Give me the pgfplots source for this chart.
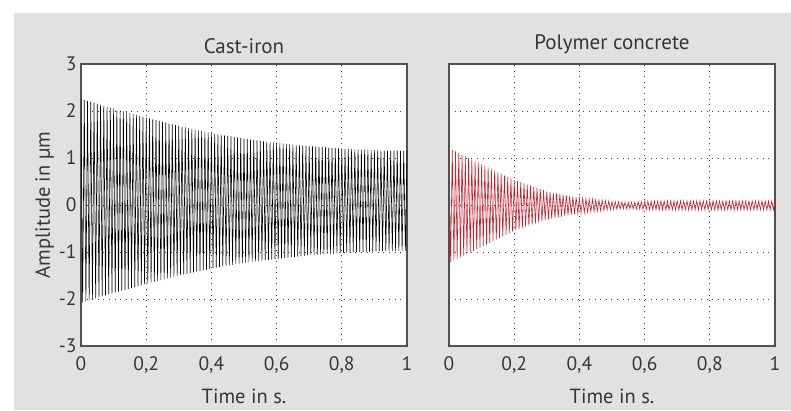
\documentclass[border=0pt]{standalone}
\usepackage{pgfplots}
\pgfplotsset{compat=1.18}
\usepackage{pgfplotstable}
\usepackage{fontspec}
\setmainfont{PT Sans}
\definecolor{bg}{RGB}{225,225,225}
\definecolor{framec}{RGB}{80,80,80}
\definecolor{txt}{RGB}{55,55,55}
\definecolor{pred}{RGB}{205,30,40}

\pgfplotstableread[row sep=\\]{
t y\\
0 2.26\\ 0.005 -2.07\\ 0.01 2.239\\ 0.015 -2.049\\ 0.02 2.218\\ 0.025 -2.028\\ 0.03 2.197\\ 0.035 -2.007\\ 0.04 2.176\\ 0.045 -1.986\\
0.05 2.155\\ 0.055 -1.965\\ 0.06 2.134\\ 0.065 -1.944\\ 0.07 2.113\\ 0.075 -1.923\\ 0.08 2.092\\ 0.085 -1.902\\ 0.09 2.071\\ 0.095 -1.881\\
0.10 2.05\\ 0.105 -1.861\\ 0.11 2.031\\ 0.115 -1.842\\ 0.12 2.012\\ 0.125 -1.823\\ 0.13 1.993\\ 0.135 -1.804\\ 0.14 1.974\\ 0.145 -1.785\\
0.15 1.955\\ 0.155 -1.766\\ 0.16 1.936\\ 0.165 -1.747\\ 0.17 1.917\\ 0.175 -1.728\\ 0.18 1.898\\ 0.185 -1.709\\ 0.19 1.879\\ 0.195 -1.690\\
0.20 1.86\\ 0.205 -1.671\\ 0.21 1.842\\ 0.215 -1.653\\ 0.22 1.824\\ 0.225 -1.635\\ 0.23 1.806\\ 0.235 -1.617\\ 0.24 1.788\\ 0.245 -1.599\\
0.25 1.77\\ 0.255 -1.581\\ 0.26 1.752\\ 0.265 -1.563\\ 0.27 1.734\\ 0.275 -1.545\\ 0.28 1.716\\ 0.285 -1.527\\ 0.29 1.698\\ 0.295 -1.509\\
0.30 1.68\\ 0.305 -1.493\\ 0.31 1.665\\ 0.315 -1.478\\ 0.32 1.65\\ 0.325 -1.463\\ 0.33 1.635\\ 0.335 -1.448\\ 0.34 1.62\\ 0.345 -1.433\\
0.35 1.605\\ 0.355 -1.418\\ 0.36 1.59\\ 0.365 -1.403\\ 0.37 1.575\\ 0.375 -1.388\\ 0.38 1.56\\ 0.385 -1.373\\ 0.39 1.545\\ 0.395 -1.358\\
0.40 1.53\\ 0.405 -1.344\\ 0.41 1.518\\ 0.415 -1.332\\ 0.42 1.506\\ 0.425 -1.32\\ 0.43 1.494\\ 0.435 -1.308\\ 0.44 1.482\\ 0.445 -1.296\\
0.45 1.47\\ 0.455 -1.284\\ 0.46 1.458\\ 0.465 -1.272\\ 0.47 1.446\\ 0.475 -1.26\\ 0.48 1.434\\ 0.485 -1.248\\ 0.49 1.422\\ 0.495 -1.236\\
0.50 1.41\\ 0.505 -1.226\\ 0.51 1.402\\ 0.515 -1.217\\ 0.52 1.393\\ 0.525 -1.209\\ 0.53 1.385\\ 0.535 -1.2\\ 0.54 1.376\\ 0.545 -1.192\\
0.55 1.368\\ 0.555 -1.183\\ 0.56 1.359\\ 0.565 -1.175\\ 0.57 1.351\\ 0.575 -1.166\\ 0.58 1.342\\ 0.585 -1.158\\ 0.59 1.334\\ 0.595 -1.149\\
0.60 1.325\\ 0.605 -1.141\\ 0.61 1.318\\ 0.615 -1.134\\ 0.62 1.31\\ 0.625 -1.126\\ 0.63 1.303\\ 0.635 -1.119\\ 0.64 1.295\\ 0.645 -1.111\\
0.65 1.288\\ 0.655 -1.104\\ 0.66 1.28\\ 0.665 -1.096\\ 0.67 1.273\\ 0.675 -1.089\\ 0.68 1.265\\ 0.685 -1.081\\ 0.69 1.258\\ 0.695 -1.074\\
0.70 1.25\\ 0.705 -1.068\\ 0.71 1.245\\ 0.715 -1.063\\ 0.72 1.24\\ 0.725 -1.058\\ 0.73 1.235\\ 0.735 -1.053\\ 0.74 1.23\\ 0.745 -1.048\\
0.75 1.225\\ 0.755 -1.043\\ 0.76 1.22\\ 0.765 -1.038\\ 0.77 1.215\\ 0.775 -1.033\\ 0.78 1.21\\ 0.785 -1.028\\ 0.79 1.205\\ 0.795 -1.023\\
0.80 1.2\\ 0.805 -1.018\\ 0.81 1.197\\ 0.815 -1.015\\ 0.82 1.193\\ 0.825 -1.011\\ 0.83 1.19\\ 0.835 -1.008\\ 0.84 1.186\\ 0.845 -1.004\\
0.85 1.183\\ 0.855 -1.001\\ 0.86 1.179\\ 0.865 -0.997\\ 0.87 1.176\\ 0.875 -0.994\\ 0.88 1.172\\ 0.885 -0.99\\ 0.89 1.169\\ 0.895 -0.987\\
0.90 1.165\\ 0.905 -0.984\\ 0.91 1.164\\ 0.915 -0.983\\ 0.92 1.162\\ 0.925 -0.981\\ 0.93 1.161\\ 0.935 -0.98\\ 0.94 1.159\\ 0.945 -0.978\\
0.95 1.158\\ 0.955 -0.977\\ 0.96 1.156\\ 0.965 -0.975\\ 0.97 1.155\\ 0.975 -0.974\\ 0.98 1.153\\ 0.985 -0.972\\ 0.99 1.152\\ 0.995 -0.971\\
1.00 1.15\\
}\castiron

\pgfplotstableread[row sep=\\]{
t y\\
0 1.21\\ 0.005 -1.213\\ 0.01 1.176\\ 0.015 -1.179\\ 0.02 1.142\\ 0.025 -1.145\\ 0.03 1.108\\ 0.035 -1.111\\ 0.04 1.074\\ 0.045 -1.077\\
0.05 1.04\\ 0.055 -1.043\\ 0.06 1.006\\ 0.065 -1.009\\ 0.07 0.972\\ 0.075 -0.975\\ 0.08 0.938\\ 0.085 -0.941\\ 0.09 0.904\\ 0.095 -0.907\\
0.10 0.87\\ 0.105 -0.873\\ 0.11 0.836\\ 0.115 -0.839\\ 0.12 0.802\\ 0.125 -0.805\\ 0.13 0.768\\ 0.135 -0.771\\ 0.14 0.734\\ 0.145 -0.737\\
0.15 0.70\\ 0.155 -0.703\\ 0.16 0.666\\ 0.165 -0.669\\ 0.17 0.632\\ 0.175 -0.635\\ 0.18 0.598\\ 0.185 -0.601\\ 0.19 0.564\\ 0.195 -0.567\\
0.20 0.53\\ 0.205 -0.538\\ 0.21 0.506\\ 0.215 -0.514\\ 0.22 0.482\\ 0.225 -0.49\\ 0.23 0.458\\ 0.235 -0.466\\ 0.24 0.434\\ 0.245 -0.442\\
0.25 0.41\\ 0.255 -0.418\\ 0.26 0.386\\ 0.265 -0.394\\ 0.27 0.362\\ 0.275 -0.37\\ 0.28 0.338\\ 0.285 -0.346\\ 0.29 0.314\\ 0.295 -0.322\\
0.30 0.29\\ 0.305 -0.303\\ 0.31 0.276\\ 0.315 -0.289\\ 0.32 0.262\\ 0.325 -0.275\\ 0.33 0.248\\ 0.335 -0.261\\ 0.34 0.234\\ 0.345 -0.247\\
0.35 0.22\\ 0.355 -0.233\\ 0.36 0.206\\ 0.365 -0.219\\ 0.37 0.192\\ 0.375 -0.205\\ 0.38 0.178\\ 0.385 -0.191\\ 0.39 0.164\\ 0.395 -0.177\\
0.40 0.15\\ 0.405 -0.166\\ 0.41 0.143\\ 0.415 -0.159\\ 0.42 0.135\\ 0.425 -0.151\\ 0.43 0.128\\ 0.435 -0.144\\ 0.44 0.12\\ 0.445 -0.136\\
0.45 0.113\\ 0.455 -0.129\\ 0.46 0.105\\ 0.465 -0.121\\ 0.47 0.098\\ 0.475 -0.114\\ 0.48 0.09\\ 0.485 -0.106\\ 0.49 0.083\\ 0.495 -0.099\\
0.50 0.075\\ 0.505 -0.093\\ 0.51 0.071\\ 0.515 -0.089\\ 0.52 0.067\\ 0.525 -0.085\\ 0.53 0.063\\ 0.535 -0.081\\ 0.54 0.059\\ 0.545 -0.077\\
0.55 0.055\\ 0.555 -0.077\\ 0.56 0.059\\ 0.565 -0.082\\ 0.57 0.064\\ 0.575 -0.086\\ 0.58 0.068\\ 0.585 -0.09\\ 0.59 0.072\\ 0.595 -0.095\\
0.60 0.077\\ 0.605 -0.099\\ 0.61 0.081\\ 0.615 -0.103\\ 0.62 0.085\\ 0.625 -0.102\\ 0.63 0.087\\ 0.635 -0.102\\ 0.64 0.087\\ 0.645 -0.102\\
0.65 0.087\\ 0.655 -0.102\\ 0.66 0.087\\ 0.665 -0.102\\ 0.67 0.087\\ 0.675 -0.102\\ 0.68 0.087\\ 0.685 -0.102\\ 0.69 0.087\\ 0.695 -0.102\\
0.70 0.087\\ 0.705 -0.102\\ 0.71 0.087\\ 0.715 -0.102\\ 0.72 0.087\\ 0.725 -0.102\\ 0.73 0.087\\ 0.735 -0.102\\ 0.74 0.087\\ 0.745 -0.102\\
0.75 0.087\\ 0.755 -0.102\\ 0.76 0.087\\ 0.765 -0.102\\ 0.77 0.087\\ 0.775 -0.102\\ 0.78 0.087\\ 0.785 -0.102\\ 0.79 0.087\\ 0.795 -0.102\\
0.80 0.087\\ 0.805 -0.102\\ 0.81 0.087\\ 0.815 -0.102\\ 0.82 0.087\\ 0.825 -0.102\\ 0.83 0.087\\ 0.835 -0.102\\ 0.84 0.087\\ 0.845 -0.102\\
0.85 0.087\\ 0.855 -0.102\\ 0.86 0.087\\ 0.865 -0.102\\ 0.87 0.087\\ 0.875 -0.102\\ 0.88 0.087\\ 0.885 -0.102\\ 0.89 0.087\\ 0.895 -0.102\\
0.90 0.087\\ 0.905 -0.102\\ 0.91 0.087\\ 0.915 -0.102\\ 0.92 0.087\\ 0.925 -0.102\\ 0.93 0.087\\ 0.935 -0.102\\ 0.94 0.087\\ 0.945 -0.102\\
0.95 0.087\\ 0.955 -0.102\\ 0.96 0.087\\ 0.965 -0.102\\ 0.97 0.087\\ 0.975 -0.102\\ 0.98 0.087\\ 0.985 -0.102\\ 0.99 0.087\\ 0.995 -0.102\\
1.00 0.087\\
}\polymer

\pgfplotsset{
  myax/.style={
    scale only axis, width=326pt, height=282pt,
    xmin=0, xmax=1, ymin=-3, ymax=3,
    xtick={0,0.2,0.4,0.6,0.8,1},
    xticklabels={0,{0,2},{0,4},{0,6},{0,8},1},
    ytick={-3,-2,-1,0,1,2,3},
    grid=major,
    major grid style={dash pattern=on 1pt off 4.6pt, line width=0.8pt, color=black!75},
    axis line style={framec, line width=1.6pt},
    tick style={draw=none},
    axis background/.style={fill=white},
    tick label style={font=\fontsize{19.5}{22}\selectfont, text=txt},
    yticklabel style={xshift=-1pt},
    xticklabel style={yshift=-7pt},
    label style={font=\fontsize{20.5}{23}\selectfont, text=txt},
    xlabel style={yshift=-9pt},
    title style={font=\fontsize{21}{23}\selectfont, text=txt, yshift=1pt},
  }
}

\begin{document}
\begin{tikzpicture}[x=1pt,y=1pt]
\path[use as bounding box] (0,0) rectangle (791,410);
\fill[bg] (14,0) rectangle (791,397);
\begin{axis}[myax, at={(81pt,64pt)}, anchor=south west,
  title={Cast-iron},
  xlabel={Time in s.},
  ylabel={Amplitude in µm},
  ylabel style={yshift=-2pt},
  yticklabels={-3,-2,-1,0,1,2,3},
]
\addplot[black, line width=0.6pt, mark=none] table[x=t, y=y] {\castiron};
\end{axis}
\begin{axis}[myax, at={(449pt,64pt)}, anchor=south west,
  title={Polymer concrete},
  xlabel={Time in s.},
  yticklabels={},
]
\addplot[pred, line width=0.6pt, mark=none] table[x=t, y=y] {\polymer};
\end{axis}
\end{tikzpicture}
\end{document}
